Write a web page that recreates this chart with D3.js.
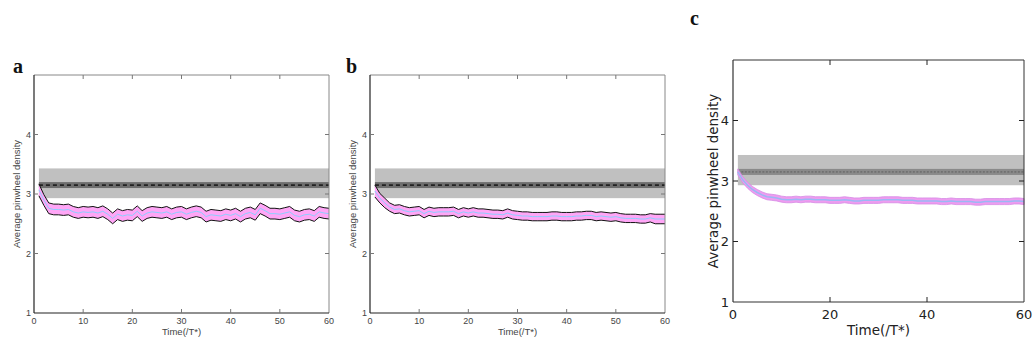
<!DOCTYPE html>
<html>
<head>
<meta charset="utf-8">
<script src="https://cdn.jsdelivr.net/npm/d3@7"></script>
<style>
  body { margin: 0; background: #fff; }
  svg { display: block; }
</style>
</head>
<body>
<svg id="fig" width="1034" height="347"></svg>
<script>
// --- données ---
const times = d3.range(1, 61); // t = 1..60

const meanA = [3.07,2.90,2.76,2.74,2.74,2.73,2.74,2.70,2.68,2.70,
               2.69,2.70,2.68,2.71,2.66,2.59,2.66,2.63,2.65,2.64,
               2.71,2.63,2.68,2.70,2.69,2.68,2.70,2.66,2.69,2.70,
               2.66,2.69,2.71,2.69,2.62,2.65,2.64,2.63,2.66,2.64,
               2.67,2.62,2.67,2.69,2.65,2.76,2.72,2.67,2.67,2.66,
               2.68,2.70,2.64,2.62,2.65,2.66,2.63,2.70,2.68,2.67];
const sdA   = [0.10,0.09,0.09,0.09,0.09,0.09,0.09,0.09,0.09,0.09,
               0.09,0.09,0.09,0.09,0.09,0.09,0.09,0.09,0.09,0.09,
               0.09,0.09,0.09,0.09,0.09,0.09,0.09,0.09,0.09,0.09,
               0.09,0.09,0.09,0.09,0.09,0.09,0.09,0.09,0.09,0.09,
               0.09,0.09,0.09,0.09,0.09,0.09,0.09,0.09,0.09,0.09,
               0.09,0.09,0.09,0.09,0.09,0.09,0.09,0.09,0.09,0.09];

const meanB = [3.05,2.93,2.85,2.78,2.74,2.75,2.72,2.70,2.71,2.72,
               2.67,2.71,2.69,2.70,2.70,2.70,2.71,2.67,2.70,2.68,
               2.70,2.68,2.68,2.67,2.66,2.66,2.65,2.68,2.65,2.64,
               2.63,2.63,2.62,2.62,2.62,2.62,2.63,2.63,2.62,2.62,
               2.62,2.63,2.63,2.64,2.64,2.62,2.63,2.62,2.61,2.62,
               2.60,2.59,2.59,2.59,2.58,2.58,2.60,2.58,2.58,2.58];
const sdB   = [0.10,0.08,0.08,0.07,0.07,0.07,0.07,0.07,0.07,0.07,
               0.07,0.07,0.07,0.07,0.07,0.07,0.07,0.07,0.07,0.07,
               0.07,0.07,0.07,0.07,0.07,0.07,0.07,0.07,0.07,0.07,
               0.07,0.07,0.07,0.07,0.07,0.07,0.07,0.07,0.07,0.07,
               0.07,0.07,0.07,0.07,0.07,0.07,0.07,0.07,0.07,0.07,
               0.07,0.07,0.07,0.07,0.07,0.07,0.07,0.08,0.08,0.08];

const meanC = [3.15,3.02,2.93,2.86,2.81,2.77,2.74,2.73,2.72,2.70,
               2.69,2.69,2.70,2.69,2.70,2.70,2.69,2.69,2.69,2.68,
               2.68,2.68,2.69,2.68,2.67,2.67,2.68,2.68,2.68,2.68,
               2.69,2.69,2.69,2.69,2.68,2.68,2.68,2.67,2.67,2.67,
               2.67,2.67,2.66,2.66,2.67,2.66,2.66,2.66,2.66,2.65,
               2.65,2.66,2.66,2.66,2.66,2.66,2.66,2.67,2.67,2.66];
const sdC   = [0.05,0.05,0.05,0.05,0.05,0.05,0.05,0.05,0.05,0.05,
               0.05,0.05,0.05,0.05,0.05,0.05,0.05,0.05,0.05,0.05,
               0.05,0.05,0.05,0.05,0.05,0.05,0.05,0.05,0.05,0.05,
               0.05,0.05,0.05,0.05,0.05,0.05,0.05,0.05,0.05,0.05,
               0.05,0.05,0.05,0.05,0.05,0.05,0.05,0.05,0.05,0.05,
               0.05,0.05,0.05,0.05,0.05,0.05,0.05,0.05,0.05,0.05];

// bande de référence grise : [bas, haut], bande foncée, ligne pointillée
const refOuter = [2.93, 3.43];
const refInner = [3.10, 3.20];
const refMean = 3.15;

const xTicksAB = [0, 10, 20, 30, 40, 50, 60];
const xTicksC = [0, 20, 40, 60];
const yTicks = [1, 2, 3, 4];

const svg = d3.select("#fig");

// --- fonction de dessin d'un panneau ---
function drawPanel(p) {
  const x = d3.scaleLinear().domain([0, 60]).range([p.left, p.right]);
  const y = d3.scaleLinear().domain([1, 5]).range([p.bottom, p.top]);
  const g = svg.append("g");
  const data = times.map((t, i) => ({ t: t, m: p.mean[i], s: p.sd[i] }));

  // bande grise
  g.append("rect")
    .attr("x", x(1)).attr("width", x(60) - x(1))
    .attr("y", y(refOuter[1])).attr("height", y(refOuter[0]) - y(refOuter[1]))
    .attr("fill", "#c0c0c0");
  g.append("rect")
    .attr("x", x(1)).attr("width", x(60) - x(1))
    .attr("y", y(refInner[1])).attr("height", y(refInner[0]) - y(refInner[1]))
    .attr("fill", p.innerColor);
  g.append("line")
    .attr("x1", x(1)).attr("x2", x(60))
    .attr("y1", y(refMean)).attr("y2", y(refMean))
    .attr("stroke", p.dashColor).attr("stroke-width", p.dashWidth)
    .attr("stroke-dasharray", p.dash);

  // bande rose (moyenne ± écart)
  const area = d3.area()
    .x(d => x(d.t)).y0(d => y(d.m - d.s)).y1(d => y(d.m + d.s));
  g.append("path").datum(data).attr("d", area)
    .attr("fill", p.bandFill)
    .attr("stroke", p.bandEdge ? "none" : p.bandStroke)
    .attr("stroke-width", 0.8);

  if (p.bandEdge) {
    const up = d3.line().x(d => x(d.t)).y(d => y(d.m + d.s));
    const lo = d3.line().x(d => x(d.t)).y(d => y(d.m - d.s));
    g.append("path").datum(data).attr("d", up)
      .attr("fill", "none").attr("stroke", "#111").attr("stroke-width", 1);
    g.append("path").datum(data).attr("d", lo)
      .attr("fill", "none").attr("stroke", "#111").attr("stroke-width", 1);
  }

  const mline = d3.line().x(d => x(d.t)).y(d => y(d.m));
  g.append("path").datum(data).attr("d", mline)
    .attr("fill", "none").attr("stroke", p.meanColor).attr("stroke-width", p.meanWidth);

  // cadre
  g.append("line").attr("x1", p.left).attr("x2", p.right).attr("y1", p.top).attr("y2", p.top)
    .attr("stroke", p.frameTop).attr("stroke-width", 1);
  g.append("line").attr("x1", p.right).attr("x2", p.right).attr("y1", p.top).attr("y2", p.bottom)
    .attr("stroke", p.frameTop).attr("stroke-width", 1);
  g.append("line").attr("x1", p.left).attr("x2", p.left).attr("y1", p.top).attr("y2", p.bottom)
    .attr("stroke", p.frame).attr("stroke-width", 1.2);
  g.append("line").attr("x1", p.left).attr("x2", p.right).attr("y1", p.bottom).attr("y2", p.bottom)
    .attr("stroke", p.frame).attr("stroke-width", 1.2);

  // graduations intérieures sur les 4 côtés
  const tl = p.tickLen;
  p.xTicks.forEach(v => {
    if (v === 0 || v === 60) return;
    g.append("line").attr("x1", x(v)).attr("x2", x(v)).attr("y1", p.bottom).attr("y2", p.bottom - tl)
      .attr("stroke", p.tickColor);
    g.append("line").attr("x1", x(v)).attr("x2", x(v)).attr("y1", p.top).attr("y2", p.top + tl)
      .attr("stroke", p.tickColor);
  });
  yTicks.forEach(v => {
    if (v === 1) return;
    g.append("line").attr("x1", p.left).attr("x2", p.left + tl).attr("y1", y(v)).attr("y2", y(v))
      .attr("stroke", p.tickColor);
    g.append("line").attr("x1", p.right).attr("x2", p.right - tl).attr("y1", y(v)).attr("y2", y(v))
      .attr("stroke", p.tickColor);
  });

  // étiquettes
  const txt = g.append("g").style("font-family", p.font).style("fill", p.textColor);
  p.xTicks.forEach(v => {
    txt.append("text").attr("x", x(v)).attr("y", p.bottom + p.xTickDy)
      .attr("text-anchor", "middle").style("font-size", p.tickSize + "px").text(v);
  });
  yTicks.forEach(v => {
    txt.append("text").attr("x", p.left - p.yTickDx).attr("y", y(v))
      .attr("dy", "0.35em").attr("text-anchor", "end")
      .style("font-size", p.tickSize + "px").text(v);
  });
  txt.append("text").attr("x", (p.left + p.right) / 2).attr("y", p.bottom + p.xLabelDy)
    .attr("text-anchor", "middle").style("font-size", p.labelSize + "px").text("Time(/T*)");
  txt.append("text")
    .attr("transform", `translate(${p.yLabelX},${(p.top + p.bottom) / 2}) rotate(-90)`)
    .attr("text-anchor", "middle").style("font-size", p.labelSize + "px")
    .text("Average pinwheel density");

  // lettre du panneau
  svg.append("text").attr("x", p.letterX).attr("y", p.letterY)
    .style("font-family", "'Liberation Serif', serif").style("font-weight", "bold")
    .style("font-size", "20px").style("fill", "#111").text(p.letter);
}

const styleAB = {
  innerColor: "#6e6e6e", dashColor: "#222", dashWidth: 1.6, dash: "4,3",
  bandFill: "#ffa6f6", bandEdge: true, bandStroke: "none",
  meanColor: "#8ccfff", meanWidth: 1,
  frame: "#222", frameTop: "#888", tickColor: "#777", tickLen: 4,
  font: "'Liberation Sans', Arial, sans-serif", textColor: "#444",
  tickSize: 9, labelSize: 9.5, xTickDy: 11, yTickDx: 3, xLabelDy: 22,
  xTicks: xTicksAB
};

drawPanel(Object.assign({}, styleAB, {
  left: 34, right: 329, top: 75, bottom: 313, mean: meanA, sd: sdA,
  yLabelX: 20, letter: "a", letterX: 13, letterY: 73
}));

drawPanel(Object.assign({}, styleAB, {
  left: 370, right: 665, top: 75, bottom: 313, mean: meanB, sd: sdB,
  yLabelX: 356, letter: "b", letterX: 346, letterY: 73
}));

drawPanel({
  left: 733, right: 1024, top: 60, bottom: 302, mean: meanC, sd: sdC,
  innerColor: "#8a8a8a", dashColor: "#555", dashWidth: 0.8, dash: "2,1.5",
  bandFill: "#ee9cf0", bandEdge: false, bandStroke: "#d68ae4",
  meanColor: "#9ab8f4", meanWidth: 1.5,
  frame: "#333", frameTop: "#333", tickColor: "#222", tickLen: 5,
  font: "'DejaVu Sans', sans-serif", textColor: "#222",
  tickSize: 13, labelSize: 13.5, xTickDy: 17, yTickDx: 4, xLabelDy: 33,
  xTicks: xTicksC, yLabelX: 718,
  letter: "c", letterX: 690, letterY: 25
});
</script>
</body>
</html>
